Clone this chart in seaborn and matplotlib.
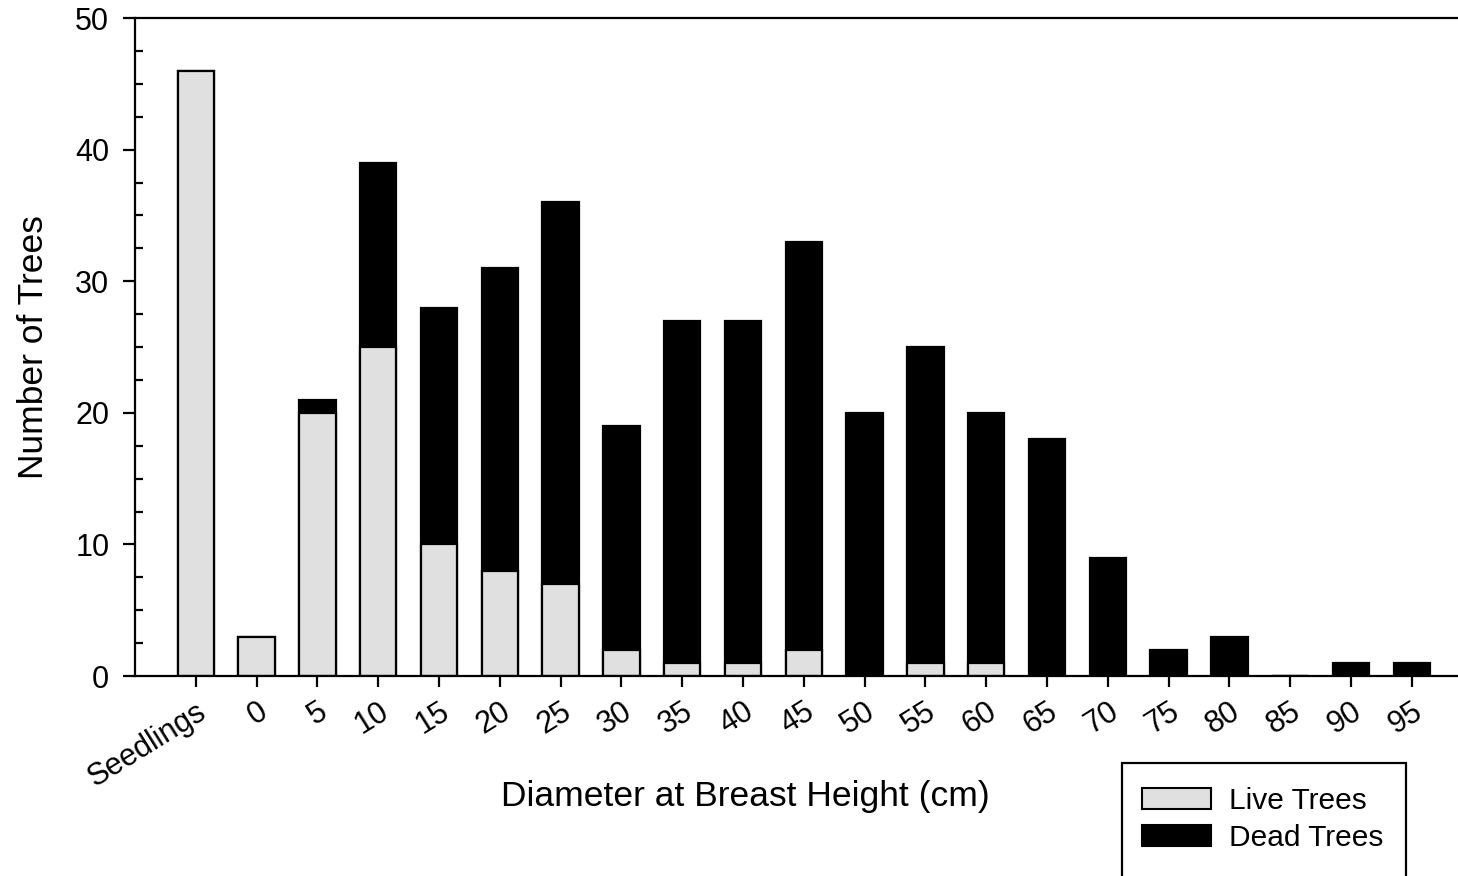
import matplotlib
matplotlib.use("Agg")
import matplotlib.pyplot as plt
import seaborn as sns
import pandas as pd
from matplotlib.patches import Patch, Rectangle
from matplotlib.ticker import MultipleLocator

# Data
dbh_classes = ["Seedlings", "0", "5", "10", "15", "20", "25", "30", "35", "40", "45",
               "50", "55", "60", "65", "70", "75", "80", "85", "90", "95"]
live_trees = [46, 3, 20, 25, 10, 8, 7, 2, 1, 1, 2, 0, 1, 1, 0, 0, 0, 0, 0, 0, 0]
dead_trees = [0, 0, 1, 14, 18, 23, 29, 17, 26, 26, 31, 20, 24, 19, 18, 9, 2, 3, 0, 1, 1]

LIVE_COLOR = "#e0e0e0"
DEAD_COLOR = "black"

df = pd.DataFrame({"dbh": dbh_classes, "live": live_trees, "dead": dead_trees})
df["total"] = df["live"] + df["dead"]

sns.set_style("ticks")
plt.rcParams["font.family"] = ["Liberation Sans", "DejaVu Sans"]
plt.rcParams.update({"text.color": "black", "axes.labelcolor": "black",
                     "xtick.color": "black", "ytick.color": "black"})

W, H = 1458, 876
fig = plt.figure(figsize=(W / 100, H / 100), dpi=100)
ax = fig.add_axes([135 / W, 200 / H, 1 - 135 / W, 658 / H])

# stacked bars: total (dead colour) underneath, live drawn over it
sns.barplot(data=df, x="dbh", y="total", color=DEAD_COLOR, saturation=1, width=0.6,
            edgecolor="black", linewidth=1.6, errorbar=None, ax=ax)
sns.barplot(data=df, x="dbh", y="live", color=LIVE_COLOR, saturation=1, width=0.6,
            edgecolor="black", linewidth=1.6, errorbar=None, ax=ax)

ax.set_xlim(-1.0, 20.76)
ax.set_ylim(0, 50)
ax.set_yticks(range(0, 51, 10))
ax.yaxis.set_minor_locator(MultipleLocator(2.5))

for side in ["top", "left", "bottom"]:
    ax.spines[side].set_linewidth(1.6)
    ax.spines[side].set_color("black")
ax.spines["right"].set_visible(False)

ax.tick_params(axis="y", which="major", direction="out", length=8.5, width=1.6,
               labelsize=22, pad=10)
ax.tick_params(axis="y", which="minor", direction="in", length=6, width=1.6)
ax.tick_params(axis="x", which="major", direction="out", length=8, width=1.6,
               labelsize=22, pad=7)
plt.setp(ax.get_xticklabels(), rotation=32, ha="right", rotation_mode="anchor")

ax.set_xlabel("Diameter at Breast Height (cm)", fontsize=25.5)
ax.set_ylabel("Number of Trees", fontsize=25.5)
ax.xaxis.set_label_coords(0.461, -0.158)
ax.yaxis.set_label_coords(-0.064, 0.5)

# Legend, with a box that runs off the bottom of the figure
handles = [Patch(facecolor=LIVE_COLOR, edgecolor="black", linewidth=1.5, label="Live Trees"),
           Patch(facecolor=DEAD_COLOR, edgecolor="black", linewidth=1.5, label="Dead Trees")]
fig.legend(handles=handles, loc="upper left", bbox_to_anchor=(1142 / W, 1 - 787 / H),
           frameon=False, borderpad=0, borderaxespad=0, handlelength=2.3,
           handleheight=0.74, handletextpad=0.6, labelspacing=0.3, fontsize=21.5)
fig.add_artist(Rectangle((1122 / W, -0.05), (1406 - 1122) / W, (876 - 763) / H + 0.05,
                         transform=fig.transFigure, fill=False, edgecolor="black",
                         linewidth=1.6))

fig.savefig("out.png", dpi=100)
